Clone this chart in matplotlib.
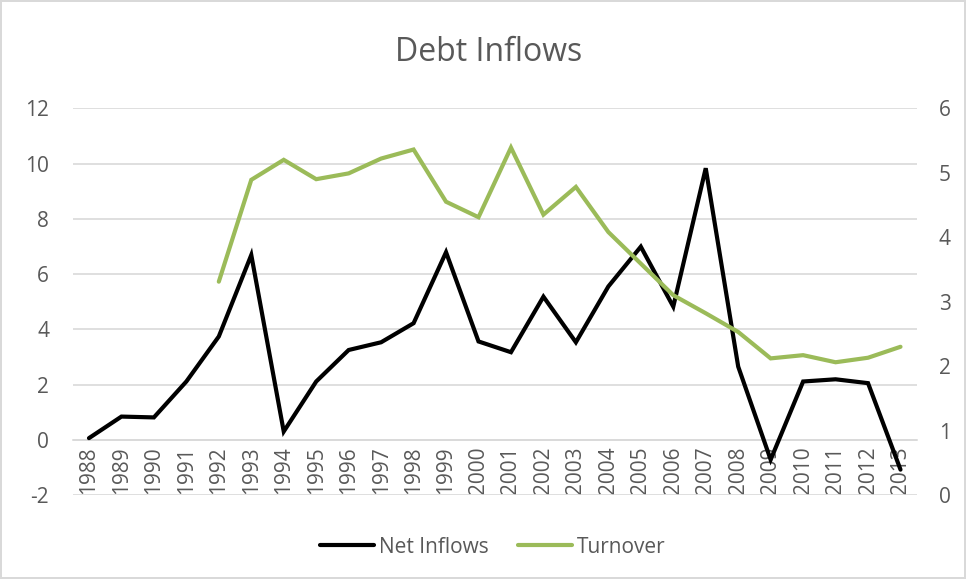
import numpy as np
import matplotlib
matplotlib.use("Agg")
import matplotlib.pyplot as plt

# data
years = [str(y) for y in range(1988, 2014)]
net_inflows = [0.06, 0.84, 0.81, 2.11, 3.74, 6.69, 0.30, 2.11, 3.25, 3.53, 4.22, 6.79, 3.56,
               3.17, 5.18, 3.53, 5.55, 6.99, 4.82, 9.83, 2.65, -0.72, 2.11, 2.19, 2.05, -1.08]
turnover_years = years[4:]
turnover = [3.31, 4.89, 5.20, 4.90, 4.99, 5.22, 5.36, 4.55, 4.31, 5.39, 4.35, 4.78, 4.08,
            3.59, 3.10, 2.82, 2.53, 2.12, 2.17, 2.06, 2.13, 2.30]
left_ticks = [-2, 0, 2, 4, 6, 8, 10, 12]
right_ticks = [0, 1, 2, 3, 4, 5, 6]

plt.rcParams['font.family'] = ['Open Sans', 'DejaVu Sans']
plt.rcParams['axes.unicode_minus'] = False
grey = '#595959'
grid_col = '#d9d9d9'

fig = plt.figure(figsize=(9.66, 5.79), dpi=100)
fig.patch.set_edgecolor('#d9d9d9')
fig.patch.set_linewidth(1.5)
ax = fig.add_axes([0.0753, 0.145, 0.8737, 0.668])
ax2 = ax.twinx()

x = np.arange(len(years))
x_turn = np.arange(len(years) - len(turnover_years), len(years))

l1, = ax.plot(x, net_inflows, color='black', lw=3, solid_capstyle='round',
              solid_joinstyle='miter', label='Net Inflows', zorder=3)
l2, = ax2.plot(x_turn, turnover, color='#9bbb59', lw=3, solid_capstyle='round',
               solid_joinstyle='miter', label='Turnover', zorder=3)

ax.set_ylim(-2, 12)
ax.set_yticks(left_ticks)
ax2.set_ylim(0, 6)
ax2.set_yticks(right_ticks)
ax.set_xlim(-0.5, len(years) - 0.5)

ax.grid(axis='y', color=grid_col, lw=1.2)
ax.set_axisbelow(True)
for s in ['top', 'left', 'right']:
    ax.spines[s].set_visible(False)
    ax2.spines[s].set_visible(False)
ax2.spines['bottom'].set_visible(False)
# category axis crosses the value axis at 0
ax.spines['bottom'].set_position(('data', 0))
ax.spines['bottom'].set_color(grid_col)
ax.spines['bottom'].set_linewidth(1.2)
ax.set_xticks(x)
ax.set_xticklabels(years)

ax.tick_params(axis='x', length=0, pad=5, labelsize=15, labelcolor=grey, labelrotation=90)
ax.tick_params(axis='y', length=0, pad=17, labelsize=15, labelcolor=grey)
ax2.tick_params(axis='y', length=0, pad=16, labelsize=15, labelcolor=grey)

fig.text(0.506, 0.91, 'Debt Inflows', ha='center', va='center', fontsize=23, color=grey)

fig.legend([l1, l2], ['Net Inflows', 'Turnover'], loc='center', bbox_to_anchor=(0.51, 0.055),
           ncol=2, frameon=False, fontsize=15, labelcolor=grey, handlelength=2.6,
           handletextpad=0.25, columnspacing=1.4)

fig.savefig('out.png', dpi=100)
